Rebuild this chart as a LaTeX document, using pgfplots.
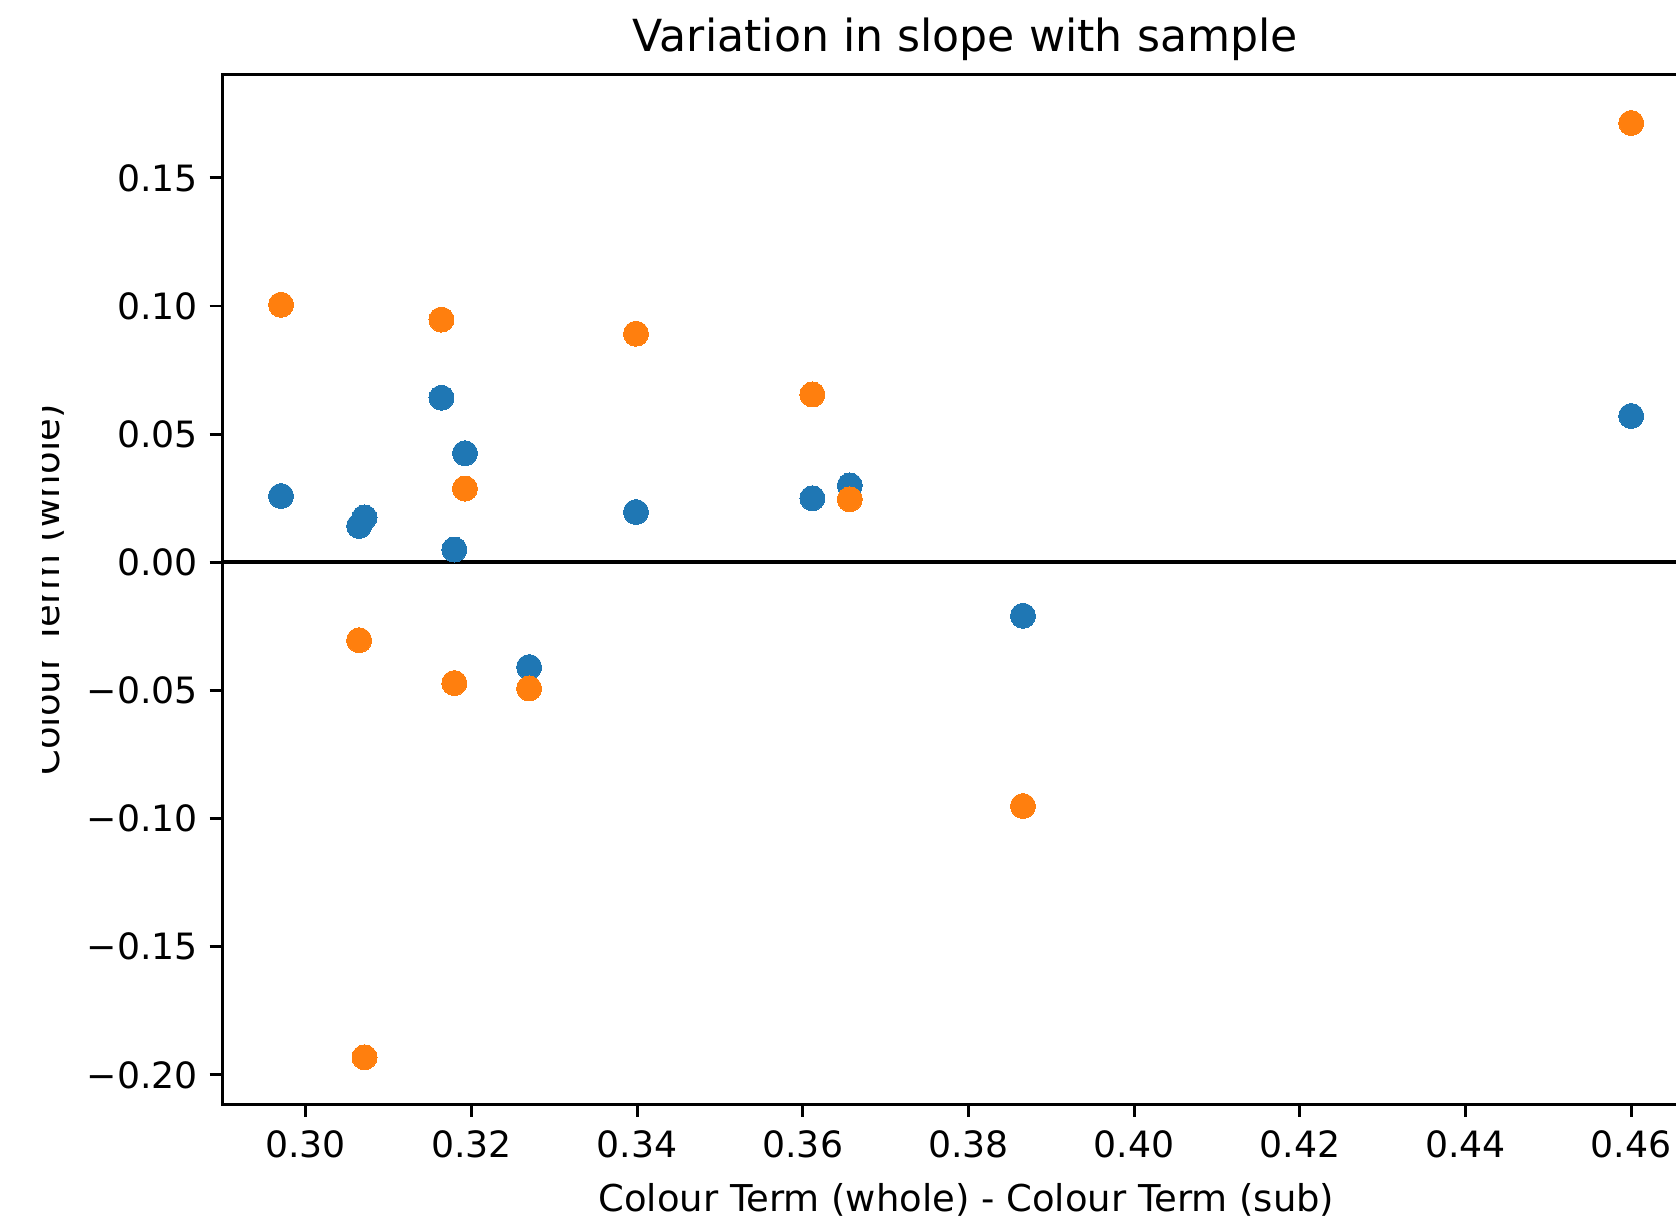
\documentclass[border=0pt]{standalone}
\usepackage{fontspec}
\setmainfont{DejaVu Sans}
\usepackage{pgfplots}
\pgfplotsset{compat=1.18}
\definecolor{tabblue}{HTML}{1F77B4}
\definecolor{taborange}{HTML}{FF7F0E}
\begin{document}
\begin{tikzpicture}
\begin{axis}[
  at={(61.36pt,32.74pt)}, anchor=south west,
  scale only axis, width=407.7pt, height=284.07pt,
  xmin=0.28994, xmax=0.46826, ymin=-0.2114, ymax=0.1902,
  axis line style={line width=0.8pt},
  tick align=outside, tick pos=left,
  major tick length=3.5pt,
  every tick/.style={black, line width=0.8pt},
  xtick={0.30,0.32,0.34,0.36,0.38,0.40,0.42,0.44,0.46},
  xticklabels={0.30,0.32,0.34,0.36,0.38,0.40,0.42,0.44,0.46},
  ytick={-0.20,-0.15,-0.10,-0.05,0,0.05,0.10,0.15},
  yticklabels={−0.20,−0.15,−0.10,−0.05,0.00,0.05,0.10,0.15},
  xticklabel style={font=\fontsize{10}{12}\selectfont, inner sep=0pt, anchor=north, yshift=-3.7pt},
  yticklabel style={font=\fontsize{10}{12}\selectfont, inner sep=0pt, anchor=east, xshift=-3.1pt},
  clip=true,
]
\addplot[only marks, mark=*, mark size=3.45pt, color=tabblue, mark options={fill=tabblue, draw=tabblue, line width=0pt}] coordinates {
(0.29703,0.02585) (0.30645,0.01418) (0.30710,0.01750) (0.31639,0.06420)
(0.31923,0.04254) (0.31794,0.00500) (0.32697,-0.04087) (0.33987,0.01960)
(0.36116,0.02500) (0.36568,0.03000) (0.38658,-0.02085) (0.46000,0.05710)
};
\addplot[only marks, mark=*, mark size=3.45pt, color=taborange, mark options={fill=taborange, draw=taborange, line width=0pt}] coordinates {
(0.29703,0.10050) (0.31639,0.09470) (0.33987,0.08920) (0.36116,0.06550)
(0.31923,0.02880) (0.36568,0.02460) (0.30645,-0.03040) (0.31794,-0.04710)
(0.32697,-0.04920) (0.38658,-0.09510) (0.30710,-0.19310) (0.46000,0.17140)
};
\addplot[black, line width=1.1pt] coordinates {(0.28994,0) (0.46826,0)};
\end{axis}
\node[anchor=base, font=\fontsize{12.2}{14}\selectfont] at (266.4pt,323.2pt) {Variation in slope with sample};
\node[anchor=base, font=\fontsize{10.2}{12}\selectfont] at (266.7pt,3.1pt) {Colour Term (whole) - Colour Term (sub)};
\begin{scope}
\clip (11.8pt,0pt) rectangle (40pt,337.46pt);
\node[rotate=90, anchor=base, font=\fontsize{10.2}{12}\selectfont] at (16.5pt,174.6pt) {Colour Term (whole)};
\end{scope}
\pgfresetboundingbox
\path[use as bounding box] (0pt,0pt) rectangle (462.54pt,337.46pt);
\end{tikzpicture}
\end{document}
